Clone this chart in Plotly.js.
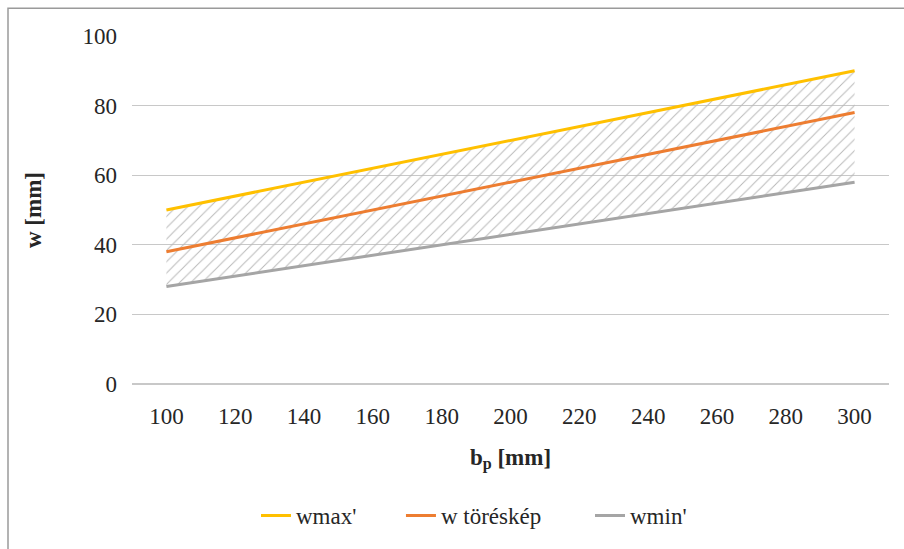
<!DOCTYPE html>
<html>
<head>
<meta charset="utf-8">
<script src="https://cdn.plot.ly/plotly-3.0.1.min.js"></script>
<style>html,body{margin:0;padding:0;background:#fff;}#chart{width:904px;height:549px;}</style>
</head>
<body>
<div id="chart"></div>
<script>
const bp = [100, 120, 140, 160, 180, 200, 220, 240, 260, 280, 300];
const wmax = [50, 54, 58, 62, 66, 70, 74, 78, 82, 86, 90];
const wTores = [38, 42, 46, 50, 54, 58, 62, 66, 70, 74, 78];
const wmin = [28, 31, 34, 37, 40, 43, 46, 49, 52, 55, 58];
const yTicks = [0, 20, 40, 60, 80, 100];

const font = "'Times New Roman', 'Liberation Serif', 'DejaVu Serif', serif";
const txt = '#262626';
const fs = 23;

const traces = [
  {x: bp, y: wmin, name: "wmin'", mode: 'lines', type: 'scatter',
   line: {color: '#A5A5A5', width: 3}, legend: 'legend3'},
  {x: bp, y: wmax, name: 'range', mode: 'lines', type: 'scatter', showlegend: false,
   line: {color: 'rgba(0,0,0,0)', width: 0},
   fill: 'tonexty', fillcolor: 'rgba(0,0,0,0)',
   fillpattern: {shape: '/', fgcolor: '#b8b8b8', bgcolor: 'rgba(0,0,0,0)', size: 8, solidity: 0.12}},
  {x: bp, y: wmax, name: "wmax'", mode: 'lines', type: 'scatter',
   line: {color: '#FFC000', width: 3}, legend: 'legend'},
  {x: bp, y: wTores, name: 'w töréskép', mode: 'lines', type: 'scatter',
   line: {color: '#ED7D31', width: 3}, legend: 'legend2'}
];

const legBase = {orientation: 'h', xanchor: 'left', y: -0.378, yanchor: 'middle',
  bgcolor: 'rgba(0,0,0,0)', font: {family: font, size: fs, color: txt}};

const layout = {
  width: 904, height: 549,
  margin: {l: 132, r: 15, t: 36, b: 162},
  paper_bgcolor: '#ffffff', plot_bgcolor: '#ffffff',
  font: {family: font, size: fs, color: txt},
  showlegend: true,
  legend: Object.assign({}, legBase, {x: 0.1638}),
  legend2: Object.assign({}, legBase, {x: 0.3553}),
  legend3: Object.assign({}, legBase, {x: 0.605}),
  xaxis: {
    range: [90, 310], tickvals: bp, ticktext: bp.map(String),
    showgrid: false, zeroline: false, showline: false, ticks: '', ticklabelstandoff: 16,
    tickfont: {family: font, size: fs, color: txt},
    title: {text: '<b>b<sub>p</sub> [mm]</b>', font: {family: font, size: fs, color: txt}, standoff: 20}
  },
  yaxis: {
    range: [0, 100], tickvals: yTicks, ticktext: yTicks.map(String),
    showgrid: true, gridcolor: '#c8c8c8', gridwidth: 1.3, zeroline: true, zerolinecolor: '#c8c8c8', zerolinewidth: 1.3,
    showline: false, ticks: '', ticklabelstandoff: 14,
    tickfont: {family: font, size: fs, color: txt},
    title: {text: '<b>w [mm]</b>', font: {family: font, size: fs, color: txt}, standoff: 34}
  },
  shapes: [
    {type: 'rect', xref: 'paper', yref: 'paper', x0: -0.1638, x1: 1.05, y0: -0.6, y1: 1.0798,
     line: {color: '#9a9a9a', width: 1.5}, fillcolor: 'rgba(0,0,0,0)', layer: 'below'}
  ]
};

Plotly.newPlot('chart', traces, layout, {displayModeBar: false, staticPlot: true});
</script>
</body>
</html>
